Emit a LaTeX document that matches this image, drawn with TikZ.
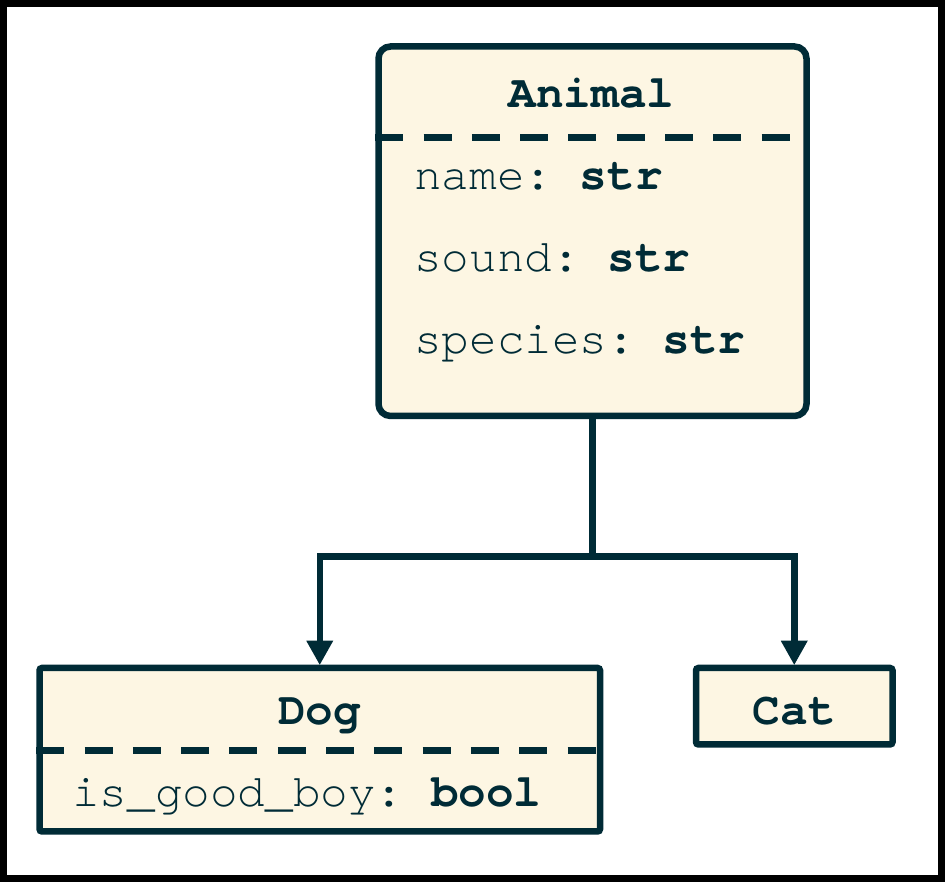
\documentclass[tikz,border=0pt]{standalone}
\usepackage{fontspec}
\setmonofont{texgyrecursor}[Extension=.otf,UprightFont=*-regular,BoldFont=*-bold]
\usetikzlibrary{arrows.meta}
\definecolor{ink}{HTML}{002B36}
\definecolor{paper}{HTML}{FDF6E3}
\begin{document}
\begin{tikzpicture}[x=1pt,y=1pt,
  box/.style={draw=ink,fill=paper,line width=6.5pt,inner sep=0pt},
  txt/.style={text=ink,inner sep=0pt,font=\fontsize{46}{55}\selectfont\ttfamily},
  ttl/.style={text=ink,inner sep=0pt,font=\fontsize{46}{55}\selectfont\ttfamily\bfseries},
  sepline/.style={draw=ink,line width=7pt,dash pattern=on 28pt off 20.3pt},
  conn/.style={draw=ink,line width=6.5pt},
  tip/.tip={Triangle[width=27pt,length=24pt,line width=0pt]}]
\useasboundingbox (0,0) rectangle (945,882);
\fill[white] (0,0) rectangle (945,882);
\draw[line width=7pt,black] (3.5,3.5) rectangle (941.5,878.5);
% boxes
\node[box,rounded corners=12pt,minimum width=428pt,minimum height=369.5pt] (animal) at (592.5,650.75) {};
\node[box,rounded corners=2.5pt,minimum width=560.5pt,minimum height=163.5pt] (dog) at (319.75,132.25) {};
\node[box,rounded corners=2.5pt,minimum width=196.5pt,minimum height=76.5pt] (cat) at (794.25,175.75) {};
% separators
\draw[sepline] (animal.west |- 0,744.5) -- (animal.east |- 0,744.5);
\draw[sepline] (dog.west |- 0,131.5) -- (dog.east |- 0,131.5);
% texts
\node[ttl,anchor=base] (animaltitle) at (591.5,774) {Animal};
\node[txt,anchor=base west] (aname) at (414,692) {name: \textbf{str}};
\node[txt,anchor=base west] (asound) at (414,610) {sound: \textbf{str}};
\node[txt,anchor=base west] (aspecies) at (414,528) {species: \textbf{str}};
\node[ttl,anchor=base] (dogtitle) at (319.75,157) {Dog};
\node[txt,anchor=base west] (dogattr) at (72,75.3) {is\_good\_boy: \textbf{bool}};
\node[ttl,anchor=base] (cattitle) at (794.25,157) {Cat};
% connectors
\coordinate (j) at (592.5,325.5);
\draw[conn] (animal.south) -- (j);
\draw[conn,tip-tip] (dog.north) |- (j) -| (cat.north);
\end{tikzpicture}
\end{document}
